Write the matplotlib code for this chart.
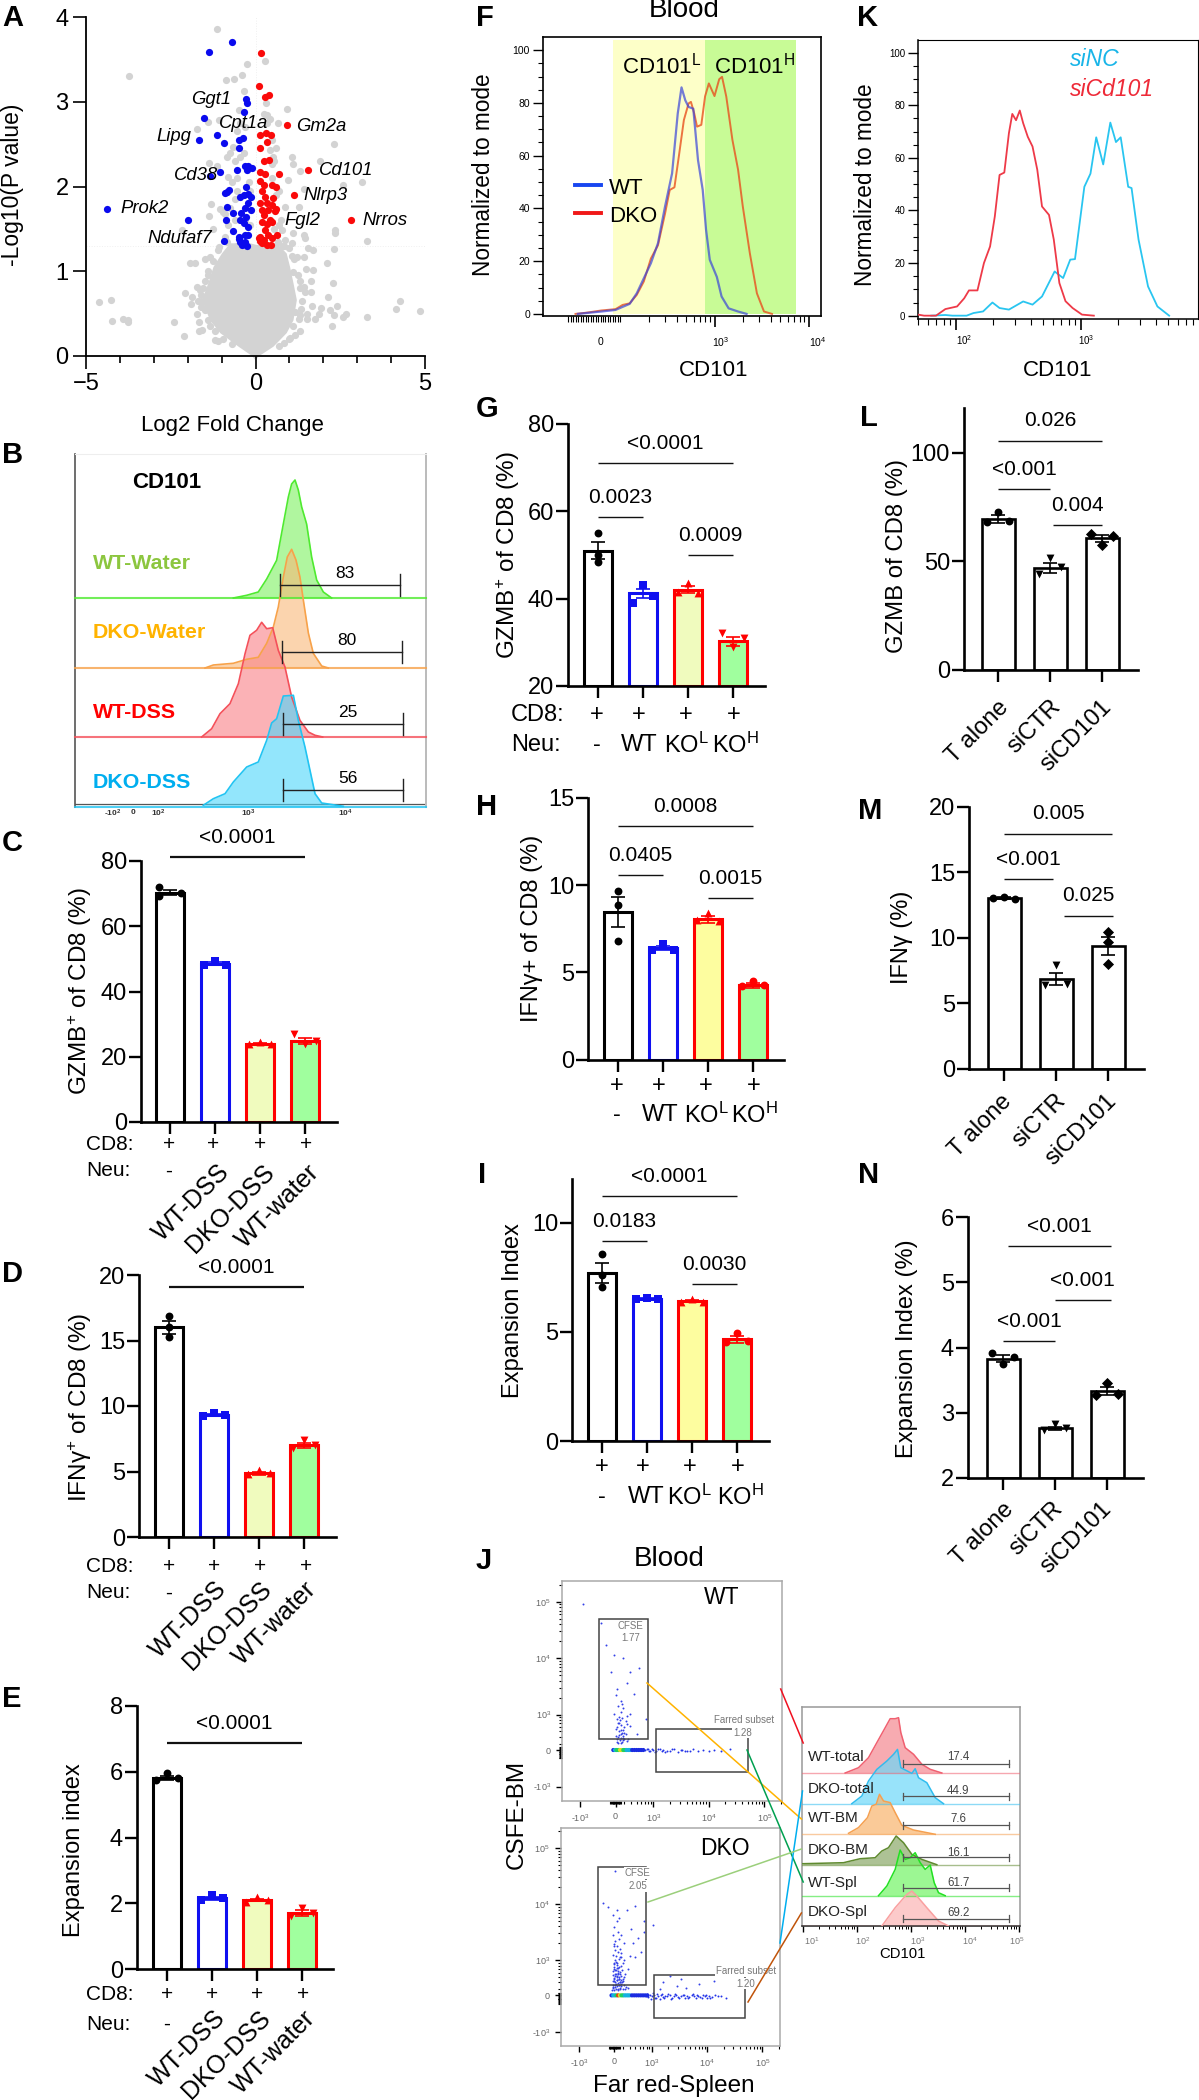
"""Multi-panel CD101 figure: volcano, flow histograms, bar charts, dot plots."""

import matplotlib

matplotlib.use("Agg")
import matplotlib.pyplot as plt
import numpy as np
from matplotlib.lines import Line2D
from matplotlib.patches import Rectangle

plt.rcParams["font.family"] = ["Liberation Sans", "DejaVu Sans"]
plt.rcParams["mathtext.fontset"] = "custom"
plt.rcParams["mathtext.rm"] = "Liberation Sans"
plt.rcParams["mathtext.it"] = "Liberation Sans:italic"
plt.rcParams["mathtext.bf"] = "Liberation Sans:bold"
plt.rcParams["mathtext.default"] = "regular"

W, H = 1199, 2100

# ---- A: volcano
BLUE_X = [-0.70, -1.36, -0.29, -0.26, -0.35, -1.53, -1.14, -1.68, -0.92, -0.50, -0.37, -0.50, -0.55, -0.30, -0.21,
          -0.11, -0.26, -1.04, -1.34, -0.29, -0.85, -0.77, -0.89, -0.45, -0.35, -0.21, -0.14, -0.21, -0.83, -0.30,
          -0.14, -0.65, -0.43, -0.28, -0.45, -0.87, -0.35, -2.00, -4.37, -0.21, -0.67, -0.50, -0.30, -0.21, -0.94,
          -0.45, -0.30, -0.24, -0.40, -0.50]
BLUE_Y = [3.70, 3.59, 3.03, 2.99, 2.88, 2.81, 2.61, 2.55, 2.51, 2.55, 2.57, 2.45, 2.20, 2.24, 2.24,
          2.22, 2.19, 2.17, 2.12, 2.00, 1.93, 1.96, 1.92, 1.88, 1.90, 1.91, 1.88, 1.80, 1.76, 1.75,
          1.72, 1.69, 1.69, 1.64, 1.61, 1.61, 1.57, 1.60, 1.74, 1.52, 1.47, 1.41, 1.43, 1.43, 1.36,
          1.35, 1.35, 1.30, 1.31, 1.38]
RED_X = [0.17, 0.10, 0.41, 0.29, 0.92, 0.14, 0.30, 0.45, 0.33, 0.14, 0.24, 0.41, 1.54, 0.69, 0.12, 0.29,
         0.14, 0.24, 0.48, 0.61, 0.19, 0.29, 1.14, 0.53, 0.14, 0.33, 0.48, 0.19, 0.38, 0.61, 0.24, 0.58,
         0.43, 2.82, 0.19, 0.33, 0.48, 0.29, 0.14, 0.38, 0.63, 0.12, 0.24, 0.48, 0.33, 0.45, 0.19, 0.09]
RED_Y = [3.57, 3.19, 3.08, 3.06, 2.72, 2.61, 2.63, 2.61, 2.53, 2.46, 2.30, 2.31, 2.20, 2.15, 2.17, 2.15,
         2.07, 2.02, 2.02, 2.00, 1.95, 1.88, 1.90, 1.86, 1.80, 1.80, 1.78, 1.72, 1.72, 1.74, 1.66, 1.71,
         1.60, 1.60, 1.58, 1.56, 1.58, 1.49, 1.41, 1.43, 1.43, 1.36, 1.37, 1.39, 1.31, 1.31, 1.33, 1.39]
GREY_X = [-1.14, 0.29, -0.24, -0.40, -3.72, -0.63, -0.87, -0.35, 0.92, 0.30, 0.33, -0.50, -1.09, -1.39, -1.73, 0.65,
          0.43, 2.32, 1.07, 1.10, 1.89, 1.32, 3.14, 2.58, 0.97, 1.44, -1.37, -1.14, -0.75, -0.65, -0.85, 0.43,
          0.53, 0.48, -0.80, -1.32, -1.36, -1.04, -0.89, 1.27, 0.88, 0.78, 1.12, 1.44, 1.47, 2.35, 2.35, 3.28,
          2.32, 1.56, 1.71, -2.17, -1.24, -1.09, 1.07, 0.88, -1.93, -1.78, -1.34, -1.48, 2.10, 1.44, 1.07, 1.22,
          1.49, 1.69, 1.12, -1.41, 1.63, 2.28, 1.32, 1.42, -1.73, -1.65, -2.09, -1.88, 1.63, 2.15, -4.63, -4.25,
          4.27, 4.15, 4.86, -1.91, -1.58, 1.66, 1.94, 2.40, 2.20, 2.66, 2.57, 2.32, 3.28, 1.76, 1.88, 1.51,
          1.51, 1.17, 1.27, -1.73, -1.48, -1.39, -1.68, -2.39, -4.22, -3.92, -3.75, -3.75, 2.25, -1.58, -1.66, -2.12,
          -1.19, -1.12, 1.32, 1.17, 1.02, 0.83]
GREY_Y = [3.86, 3.48, 3.44, 3.32, 3.30, 3.27, 3.26, 3.13, 2.92, 2.98, 2.84, 2.90, 2.78, 2.76, 2.68, 2.75,
          2.80, 2.50, 2.35, 2.27, 2.30, 2.18, 2.05, 2.02, 2.08, 1.97, 2.28, 2.24, 2.39, 2.47, 2.35, 2.43,
          2.35, 2.27, 2.11, 1.79, 1.65, 1.73, 1.68, 1.76, 1.76, 1.49, 1.45, 1.43, 1.39, 1.49, 1.45, 1.36,
          1.26, 1.27, 1.25, 1.49, 1.50, 1.29, 1.33, 1.37, 1.10, 1.10, 1.17, 1.15, 1.10, 1.17, 1.18, 1.17,
          1.03, 1.01, 0.99, 0.95, 0.88, 0.86, 0.88, 0.82, 0.82, 0.78, 0.74, 0.70, 0.75, 0.70, 0.64, 0.66,
          0.65, 0.56, 0.53, 0.61, 0.64, 0.59, 0.57, 0.59, 0.54, 0.50, 0.46, 0.48, 0.46, 0.44, 0.50, 0.50,
          0.44, 0.52, 0.44, 0.50, 0.54, 0.42, 0.40, 0.40, 0.41, 0.44, 0.40, 0.42, 0.35, 0.31, 0.29, 0.24,
          0.19, 0.18, 0.29, 0.25, 0.21, 0.15]
# points in the columns above p=0.05 and along the rim of the main cloud
GREY_MID_X = [-0.9, -0.8, -0.95, -0.75, -0.6, -0.7, -0.55, -0.6, -0.45, -0.35, -0.3, -0.45, -0.55, -0.6, -0.55, -0.3, -0.15,
              -0.15, -0.55, -0.2, 0.55, 0.68, 0.6, 0.7, 0.5, 0.55, 0.6, 0.5, 0.35, 0.25, 0.65, 0.8, 0.75,
              -1.1, -1.25, -1.4, -1.5, -1.55, -1.7, -1.45, -1.35, -1.2, -0.95, -0.7, 1.0, 1.15, 1.25, 1.3, 1.38, 1.3,
              1.1, 1.0, 0.7, 0.85, -0.85, -1.6, -1.62, 1.45, 1.35]
GREY_MID_Y = [1.4, 1.55, 1.7, 1.75, 1.85, 2.05, 2.1, 2.3, 2.35, 2.4, 2.7, 2.75, 2.65, 1.6, 1.3, 1.6, 1.55,
              1.95, 1.95, 2.05, 1.5, 1.55, 1.9, 1.95, 2.1, 2.3, 2.45, 2.55, 2.75, 2.85, 1.35, 1.3, 1.6,
              1.25, 1.12, 1.0, 0.88, 0.8, 0.65, 0.55, 0.35, 0.3, 0.2, 0.14, 1.28, 1.15, 0.95, 0.8, 0.65, 0.48,
              0.35, 0.2, 0.12, 1.3, 1.35, 0.72, 0.58, 0.75, 0.55]
CLOUD_X = [0.00, -0.10, -0.50, -1.04, -1.34, -1.58, -1.39, -1.24, -0.99, -0.75, -0.16, 0.04, 0.63, 0.92, 1.02, 1.12,
           1.22, 1.12, 0.92, 0.53, 0.11, 0.00]
CLOUD_Y = [-0.05, 0.00, 0.11, 0.27, 0.42, 0.66, 0.86, 1.05, 1.21, 1.33, 1.33, 1.31, 1.33, 1.21, 1.05, 0.86,
           0.66, 0.42, 0.27, 0.11, 0.00, -0.05]
GENES = ["Ggt1", "Cpt1a", "Gm2a", "Lipg", "Cd38", "Cd101", "Nlrp3", "Prok2", "Fgl2", "Nrros", "Ndufaf7"]
GENE_X = [-1.32, -0.35, 1.93, -2.40, -1.75, 2.66, 2.07, -3.28, 1.39, 3.82, -2.22]
GENE_Y = [3.03, 2.74, 2.71, 2.59, 2.13, 2.19, 1.89, 1.74, 1.60, 1.60, 1.39]

# ---- B: stacked histograms (log10 CD101, height)
B_NAMES = ["WT-Water", "DKO-Water", "WT-DSS", "DKO-DSS"]
B_PCT = ["83", "80", "25", "56"]
B_GREEN_X = [2.845, 2.983, 3.103, 3.19, 3.293, 3.362, 3.414, 3.448, 3.483, 3.517, 3.552, 3.603, 3.655, 3.707, 3.776, 3.862]
B_GREEN_Y = [0, 2.7, 6, 19, 37.7, 74, 101, 114, 118, 108, 91, 74, 41, 18, 6, 0]
B_ORANGE_X = [2.552, 2.638, 2.845, 2.983, 3.103, 3.19, 3.259, 3.31, 3.362, 3.403, 3.448, 3.493, 3.534, 3.569, 3.621, 3.672, 3.759, 3.828]
B_ORANGE_Y = [0, 3, 4.7, 8.7, 10.7, 24.7, 41, 61, 91, 111, 118.7, 108, 91, 68, 35, 14.7, 2, 0]
B_RED_X = [2.517, 2.621, 2.707, 2.81, 2.897, 2.966, 3.017, 3.086, 3.138, 3.19, 3.252, 3.31, 3.379, 3.448, 3.534, 3.621, 3.69, 3.769]
B_RED_Y = [0, 8.3, 23.3, 33.3, 53.3, 83.3, 101.7, 106.7, 114.7, 108.3, 109.3, 86.7, 70, 40, 16.7, 5, 1.7, 0]
B_CYAN_X = [2.534, 2.638, 2.759, 2.845, 2.983, 3.103, 3.19, 3.241, 3.293, 3.362, 3.466, 3.517, 3.586, 3.638, 3.69, 3.759, 3.983]
B_CYAN_Y = [1.7, 8.3, 13.3, 25, 40, 45, 66.7, 84, 88.3, 111, 111.7, 86.7, 60, 36.7, 13.3, 4, 0.7]

# ---- F / K histograms
F_WT_X = [1.55, 1.8, 1.95, 2.1, 2.175, 2.25, 2.325, 2.4, 2.475, 2.55, 2.61, 2.65, 2.69, 2.725, 2.775, 2.825, 2.875, 2.91, 2.95, 3.025, 3.075, 3.15, 3.25, 3.34]
F_WT_Y = [0, 0.9, 1.5, 3.8, 7.8, 13.5, 19.2, 26.8, 40.7, 53.3, 76, 85.9, 81, 78.5, 77.8, 58.3, 47, 32, 20.5, 14, 6.6, 2.1, 0.9, 0]
F_DKO_X = [1.525, 1.65, 1.8, 1.95, 2.025, 2.1, 2.175, 2.25, 2.325, 2.4, 2.475, 2.525, 2.575, 2.625, 2.675, 2.725, 2.75, 2.785, 2.815, 2.86, 2.9, 2.94, 3, 3.05, 3.08, 3.125, 3.19, 3.25, 3.3, 3.375, 3.45, 3.525, 3.61]
F_DKO_Y = [0, 0.5, 1.3, 1.8, 3.4, 4, 7.2, 12.3, 21, 26, 38, 47, 48, 60.6, 73.5, 79.8, 80.4, 76, 71, 71.7, 82.5, 87.4, 82.6, 89, 89.9, 82.4, 66, 54.7, 40.8, 23, 7.8, 0.9, 0]
K_RED_X = [1.698, 1.747, 1.842, 1.917, 2.011, 2.068, 2.106, 2.174, 2.226, 2.275, 2.313, 2.351, 2.389, 2.426, 2.453, 2.483, 2.513, 2.54, 2.577, 2.615, 2.653, 2.691, 2.747, 2.785, 2.83, 2.879, 2.936, 3.011, 3.106]
K_RED_Y = [0.4, 0, 0, 2.5, 3.5, 6.6, 9.6, 9.6, 20, 26.3, 37.7, 53.5, 54.4, 69.4, 76.7, 74.3, 78, 73.2, 68, 64.3, 55.5, 41.5, 38.3, 29, 12.4, 5.5, 2.9, 0.4, 0]
K_CYAN_X = [1.804, 1.917, 1.974, 2.087, 2.143, 2.219, 2.294, 2.351, 2.426, 2.54, 2.615, 2.691, 2.792, 2.86, 2.917, 2.955, 3.03, 3.079, 3.125, 3.181, 3.238, 3.283, 3.321, 3.381, 3.408, 3.464, 3.54, 3.615, 3.709]
K_CYAN_Y = [0, 0.25, 0, 0, 1, 1.6, 5, 2.9, 2.3, 5.4, 4.2, 7.3, 16.8, 14.3, 21.3, 21.5, 49, 54, 67.8, 57.5, 73.4, 66, 67.8, 49, 48.5, 28.9, 11.1, 3.5, 0]

# ---- C, D, E bars
C_MEANS = [70.3, 48.5, 24, 24.8]
C_SEMS = [0.8, 0.4, 0.2, 1.0]
C_POINTS = [[72, 69.4, 70.3], [48, 49.2, 48], [23.8, 24.6, 24], [27, 24, 24.8]]
D_MEANS = [16, 9.3, 4.85, 7]
D_SEMS = [0.5, 0.1, 0.1, 0.2]
D_POINTS = [[16.9, 16, 15.3], [9.2, 9.5, 9.3], [4.8, 5.1, 4.85], [6.8, 7.4, 7.05]]
E_MEANS = [5.8, 2.15, 2.1, 1.7]
E_SEMS = [0.06, 0.05, 0.04, 0.08]
E_POINTS = [[5.75, 5.95, 5.8], [2.1, 2.25, 2.15], [2.05, 2.2, 2.1], [1.6, 1.85, 1.7]]
DSS_LABELS = ["WT-DSS", "DKO-DSS", "WT-water"]

# ---- G, H, I bars
G_MEANS = [51, 41.2, 42, 30.2]
G_SEMS = [2, 1.1, 0.8, 1]
G_POINTS = [[55, 50, 48.3], [39, 43.2, 40.6], [41.5, 43.7, 41.4], [32.2, 29, 31]]
H_MEANS = [8.45, 6.4, 8.05, 4.25]
H_SEMS = [0.85, 0.12, 0.2, 0.15]
H_POINTS = [[9.68, 8.86, 6.81], [6.3, 6.6, 6.3], [8, 8.4, 7.95], [4.2, 4.5, 4.3]]
I_MEANS = [7.7, 6.5, 6.4, 4.65]
I_SEMS = [0.45, 0.03, 0.05, 0.15]
I_POINTS = [[8.56, 7.62, 7.07], [6.5, 6.55, 6.5], [6.35, 6.5, 6.35], [4.55, 4.95, 4.6]]

# ---- L, M, N bars
L_MEANS = [69.6, 47.1, 60.6]
L_SEMS = [2, 2.2, 1.6]
L_POINTS = [[68, 73, 68.5], [44.3, 51.6, 47.5], [62.7, 57.8, 61.9]]
M_MEANS = [13.05, 6.85, 9.35]
M_SEMS = [0.06, 0.45, 0.7]
M_POINTS = [[13.05, 13.15, 13.0], [6.4, 7.9, 6.5], [10.45, 9.7, 8.0]]
N_MEANS = [3.83, 2.76, 3.33]
N_SEMS = [0.05, 0.02, 0.06]
N_POINTS = [[3.92, 3.74, 3.86], [2.74, 2.82, 2.76], [3.27, 3.46, 3.28]]
SI_LABELS = ["T alone", "siCTR", "siCD101"]

# ---- J: dot plots
J_WT_X = [2.29, 2.46, 2.14, 2.58, 2.74, 2.23, 2.35, 2.52, 2.32, 2.42, 2.65, 2.45, 2.52, 2.35, 2.58, 2.42, 2.32, 2.46, 2.58,
          2.42, 2.45, 2.35, 2.52, 2.42, 2.71, 2.87, 2.29, 1.73, 2.06, 2.38, 2.5, 2.36, 2.41, 2.33, 2.47, 2.55, 2.39, 2.44,
          2.34, 2.37, 2.4, 2.43, 2.46, 2.36, 2.39, 2.42, 2.45, 2.48, 2.38, 2.41, 2.44, 2.35, 2.5, 2.37, 2.4, 2.43, 2.52, 2.47]
J_WT_Y = [4.05, 4.01, 4.24, 3.75, 3.82, 3.75, 3.46, 3.56, 3.34, 3.24, 3.37, 3.11, 2.98, 2.92, 3.01, 2.82, 2.75, 2.72, 2.79,
          2.66, 2.59, 2.56, 2.53, 2.5, 2.66, 2.92, 3.01, 4.97, 4.63, 2.85, 2.88, 3.15, 3.05, 2.62, 2.68, 2.56, 2.95, 3.18,
          2.52, 2.5, 2.54, 2.51, 2.55, 2.6, 2.63, 2.58, 2.62, 2.57, 2.7, 2.73, 2.68, 2.78, 2.65, 2.85, 2.9, 2.94, 2.84, 2.78]
J_WT_TAIL_X = [2.85, 2.88, 2.9, 2.93, 2.95, 2.98, 3.0, 3.03, 3.05, 3.09, 3.12, 3.15, 3.18, 3.22, 3.25, 3.3, 3.34, 3.38, 3.45, 3.5, 3.52, 3.58, 3.6, 3.66, 3.72, 3.8, 3.9, 4.0, 4.1, 4.22, 4.38]
J_WT_TAIL_Y = [2.37, 2.39, 2.38, 2.35, 2.35, 2.38, 2.37, 2.34, 2.36, 2.38, 2.38, 2.36, 2.37, 2.34, 2.35, 2.36, 2.38, 2.38, 2.34, 2.37, 2.37, 2.35, 2.36, 2.35, 2.38, 2.36, 2.37, 2.35, 2.37, 2.36, 2.38]
J_WT_BLOB_X = [2.28, 2.31, 2.34, 2.37, 2.40, 2.43, 2.46, 2.49, 2.52, 2.55, 2.58, 2.62, 2.66, 2.70, 2.74, 2.78, 2.82]
J_WT_BLOB_LEVEL = [0, 1, 2, 2, 3, 3, 2, 2, 1, 1, 1, 0, 0, 0, 0, 0, 0]
J_KO_X = [2.30, 2.34, 2.38, 2.42, 2.30, 2.35, 2.40, 2.45, 2.32, 2.37, 2.43, 2.31, 2.36, 2.41, 2.47, 2.33, 2.38, 2.44, 2.30, 2.35,
          2.42, 2.49, 2.32, 2.39, 2.46, 2.31, 2.37, 2.44, 2.52, 2.33, 2.40, 2.48, 2.56, 2.35, 2.30, 2.42, 2.50, 2.38, 2.33, 2.45,
          2.60, 2.36, 2.31, 2.43, 2.70, 2.34, 2.40, 2.66, 2.30, 2.80, 2.38, 2.44, 2.75, 2.31, 2.85, 2.36, 2.11, 2.2, 2.55, 2.7,
          2.3, 2.4, 3.02, 2.33, 2.5, 2.62, 2.36, 2.45, 2.32, 2.86,
          2.28, 2.29, 2.31, 2.33, 2.35, 2.37, 2.39, 2.41, 2.43, 2.45, 2.47, 2.49, 2.51, 2.54, 2.57, 2.29, 2.32, 2.34, 2.36, 2.38,
          2.4, 2.42, 2.44, 2.46, 2.48, 2.3, 2.33, 2.35, 2.37, 2.39, 2.41, 2.43, 2.31, 2.34, 2.36, 2.38, 2.4, 2.32, 2.35, 2.37]
J_KO_Y = [2.50, 2.52, 2.48, 2.51, 2.56, 2.58, 2.55, 2.53, 2.62, 2.64, 2.6, 2.68, 2.7, 2.66, 2.62, 2.75, 2.77, 2.72, 2.8, 2.82,
          2.78, 2.7, 2.88, 2.86, 2.83, 2.93, 2.95, 2.9, 2.75, 3.0, 3.02, 2.95, 2.85, 3.08, 3.1, 3.06, 3.0, 3.15, 3.18, 3.12,
          3.08, 3.25, 3.28, 3.2, 3.05, 3.35, 3.38, 3.3, 3.45, 3.15, 3.5, 3.45, 3.4, 3.6, 3.5, 3.7, 4.02, 3.95, 3.9, 3.96,
          3.8, 3.75, 3.62, 4.59, 3.3, 3.55, 3.9, 3.05, 3.25, 3.7,
          2.46, 2.52, 2.47, 2.55, 2.49, 2.54, 2.47, 2.56, 2.48, 2.57, 2.49, 2.56, 2.48, 2.52, 2.5, 2.62, 2.66, 2.6, 2.65, 2.59,
          2.66, 2.6, 2.64, 2.6, 2.66, 2.74, 2.72, 2.76, 2.71, 2.75, 2.7, 2.76, 2.84, 2.82, 2.86, 2.8, 2.87, 2.94, 2.97, 2.92]
J_KO_TAIL_X = [2.9, 2.93, 2.96, 3.0, 3.04, 3.08, 3.12, 3.16, 3.2, 3.24, 3.28, 3.32, 3.36, 3.4, 3.44, 3.48, 3.52, 3.56, 3.6, 3.64,
               3.68, 3.72, 3.76, 3.8, 3.84, 3.88, 3.92, 3.96, 4.0, 4.04, 4.08, 4.14, 4.2, 4.25, 4.35,
               2.92, 2.98, 3.02, 3.06, 3.1, 3.14, 3.18, 3.22, 3.3, 3.34, 3.42, 3.5, 3.58, 3.66, 3.74, 3.82, 3.9, 3.98, 4.06]
J_KO_TAIL_Y = [2.36, 2.34, 2.38, 2.35, 2.37, 2.33, 2.36, 2.38, 2.34, 2.36, 2.35, 2.37, 2.33, 2.36, 2.38, 2.34, 2.35, 2.37, 2.33, 2.36,
               2.34, 2.37, 2.35, 2.33, 2.36, 2.34, 2.37, 2.35, 2.33, 2.36, 2.34, 2.37, 2.35, 2.36, 2.33,
               2.4, 2.31, 2.41, 2.32, 2.39, 2.31, 2.4, 2.32, 2.39, 2.31, 2.39, 2.32, 2.38, 2.32, 2.39, 2.38, 2.32, 2.38, 2.32]
J_KO_HIGH_X = [3.2, 3.33, 3.52, 3.62, 3.85, 4.12, 3.14, 3.46]
J_KO_HIGH_Y = [2.6, 2.72, 2.66, 2.5, 2.58, 2.62, 2.48, 2.54]
J_KO_BLOB_X = [2.27, 2.30, 2.33, 2.36, 2.39, 2.42, 2.45, 2.48, 2.51, 2.54, 2.57, 2.60, 2.64, 2.68, 2.72, 2.76, 2.80, 2.84, 2.88, 2.92]
J_KO_BLOB_LEVEL = [0, 1, 1, 2, 4, 3, 2, 2, 1, 1, 1, 1, 0, 0, 0, 0, 0, 0, 0, 0]
BLOB_COLOURS = ["#1A2BE0", "#16B0E0", "#1FD060", "#D8E020", "#F03010"]
J_TICK_LABELS = ["-10$^{3}$", "0", "10$^{3}$", "10$^{4}$", "10$^{5}$"]

# ---- J: small stacked histograms
J_NAMES = ["WT-total", "DKO-total", "WT-BM", "DKO-BM", "WT-Spl", "DKO-Spl"]
J_PCT = ["17.4", "44.9", "7.6", "16.1", "61.7", "69.2"]
J1_X = [1.784, 2.031, 2.216, 2.37, 2.525, 2.617, 2.71, 2.772, 2.815, 2.895, 3.05, 3.204, 3.358, 3.574]
J1_Y = [0, 5.3, 15.3, 30.3, 45.3, 54.3, 54.3, 55.3, 40.3, 25.3, 18.7, 8.7, 3.7, 0]
J2_X = [1.907, 2.093, 2.216, 2.37, 2.556, 2.679, 2.753, 2.815, 3.019, 3.08, 3.142, 3.296, 3.451, 3.605]
J2_Y = [0, 7.7, 22.7, 34.3, 42.7, 49.3, 54.3, 36, 30.3, 35, 26, 21, 6, 0]
J3_X = [1.846, 2.031, 2.198, 2.278, 2.358, 2.42, 2.494, 2.617, 2.71, 2.833, 3.049, 3.451]
J3_Y = [1, 6.7, 16.7, 28.3, 30, 40, 33.3, 31.7, 21.7, 9, 4.3, 0]
J4_X = [1.0, 1.753, 2.062, 2.34, 2.463, 2.586, 2.728, 2.864, 3.019, 3.204, 3.481]
J4_Y = [1, 2, 6, 7, 13.7, 17, 28.7, 22, 10.3, 5.3, 0]
J5_X = [2.401, 2.556, 2.71, 2.802, 2.895, 2.988, 3.08, 3.173, 3.265, 3.358, 3.432, 3.512, 3.636]
J5_Y = [0, 9.7, 26.3, 45.7, 36.3, 38, 43, 33, 26.3, 30.7, 13, 3, 0]
J6_X = [2.463, 2.71, 2.926, 3.019, 3.111, 3.296, 3.512, 3.698]
J6_Y = [0, 18.3, 31.7, 35, 30, 18.3, 5, 0]

fig = plt.figure(figsize=(W / 100, H / 100), dpi=100)


def ax_px(left, top, right, bottom):
    ax = fig.add_axes([left / W, 1 - bottom / H, (right - left) / W, (bottom - top) / H])
    ax.patch.set_alpha(0)
    return ax


def txt(x, y, s, size=15, **kw):
    kw.setdefault("ha", "center")
    kw.setdefault("va", "center")
    fig.text(x / W, 1 - y / H, s, fontsize=size, **kw)


def link(x0, y0, x1, y1, color):
    fig.add_artist(Line2D([x0 / W, x1 / W], [1 - y0 / H, 1 - y1 / H], transform=fig.transFigure, color=color, lw=1.1))


def letter(x, y, s):
    txt(x, y, s, size=21, fontweight="bold", ha="left")


def bar_panel(box, c0, dx, ylim, yticks, means, sems, points, offsets, edges, fills, markers, brackets,
              bw=28, lw=2.2, line_w=1.0):
    left, right, top, bottom = box
    ax = ax_px(left, top, right, bottom)
    ax.set_xlim((left - c0) / dx, (right - c0) / dx)
    ax.set_ylim(*ylim)
    for i, m in enumerate(means):
        ax.bar(i, m - ylim[0], bottom=ylim[0], width=bw / dx, facecolor=fills[i], edgecolor=edges[i], linewidth=lw, zorder=2)
        ax.errorbar(i, m, yerr=sems[i], color=edges[i], capsize=5, elinewidth=1.2, capthick=1.2, zorder=3)
        xs = [i + o for o in offsets[i]]
        ax.scatter(xs, points[i], marker=markers[i], s=32, color=edges[i], linewidths=0, zorder=4, clip_on=False)
    for a, b, y, label in brackets:
        ax.plot([a, b], [y, y], color="#111111", lw=line_w, clip_on=False, solid_capstyle="butt")
        ax.annotate(label, ((a + b) / 2, y), xytext=(0, 14.2), textcoords="offset points",
                    ha="center", va="center", fontsize=15, annotation_clip=False)
    for side in ("top", "right"):
        ax.spines[side].set_visible(False)
    for side in ("left", "bottom"):
        ax.spines[side].set_linewidth(1.9)
    ax.set_xticks(range(len(means)))
    ax.set_xticklabels([])
    ax.set_yticks(yticks)
    ax.tick_params(axis="y", length=8.5, width=1.7, labelsize=17, pad=1.5)
    ax.tick_params(axis="x", length=8.5, width=1.7)
    return ax


def rotated(xs, y, labels, size=18):
    for x, s in zip(xs, labels):
        txt(x, y, s, size=size, rotation=45, ha="right", va="top", rotation_mode="anchor")


def flow_ticks(ax, axis, major, dense):
    minor = list(dense)
    for dec in major:
        minor += list(dec + np.log10(np.arange(2, 10)))
    lim = ax.get_xlim() if axis == "x" else ax.get_ylim()
    minor = [m for m in minor if lim[0] < m < lim[1]]
    if axis == "x":
        ax.set_xticks(major)
        ax.set_xticks(minor, minor=True)
    else:
        ax.set_yticks(major)
        ax.set_yticks(minor, minor=True)


# ======== A
ax = ax_px(86, 17, 425, 356)
ax.set_xlim(-5, 5)
ax.set_ylim(0, 4)
ax.fill(CLOUD_X, CLOUD_Y, color="#D3D3D3", lw=0, clip_on=False, zorder=1)
ax.axhline(1.3, color="#F0F0F0", lw=0.7, ls=":", zorder=0)
ax.axvline(0, color="#F0F0F0", lw=0.7, ls=":", zorder=0)
ax.scatter(GREY_X + GREY_MID_X, GREY_Y + GREY_MID_Y, s=27, color="#D3D3D3", linewidths=0, zorder=2)
ax.scatter(BLUE_X, BLUE_Y, s=27, color="#0A0AEE", linewidths=0, zorder=3)
ax.scatter(RED_X, RED_Y, s=27, color="#FA0A0A", linewidths=0, zorder=3)
for gene, gx, gy in zip(GENES, GENE_X, GENE_Y):
    ax.text(gx, gy, gene, fontsize=13.3, style="italic", ha="center", va="center", zorder=5)
for side in ("top", "right"):
    ax.spines[side].set_visible(False)
ax.spines["left"].set_linewidth(1.3)
ax.spines["bottom"].set_linewidth(1.3)
ax.set_xticks([-5, 0, 5])
ax.set_xticks([-4, -3, -2, -1, 1, 2, 3, 4], minor=True)
ax.set_yticks([0, 1, 2, 3, 4])
ax.tick_params(axis="both", which="major", length=9.5, width=1.2, labelsize=17, pad=3)
ax.tick_params(axis="x", which="minor", length=5, width=1.2)
txt(13, 185, "-Log10(P value)", size=16.5, rotation=90)
txt(232, 425, "Log2 Fold Change", size=16)

# ======== B
ax = ax_px(75, 454, 426, 807)
ax.set_xlim(1.207, 4.838)
ax.set_ylim(0, 353)
B_BASE = [209, 139, 70, 0]
B_EDGE = ["#4FEA30", "#F7A24A", "#F4505A", "#22C4F2"]
B_FILL = ["#7CF060", "#F9B878", "#F97F86", "#4CD6FB"]
B_CURVES = [(B_GREEN_X, B_GREEN_Y), (B_ORANGE_X, B_ORANGE_Y), (B_RED_X, B_RED_Y), (B_CYAN_X, B_CYAN_Y)]
B_GATE = [(3.328, 4.569, 12.7), (3.348, 4.586, 16), (3.362, 4.603, 12.7), (3.362, 4.603, 16.7)]
for base, edge, fill, (cx, cy), gate, pct in zip(B_BASE, B_EDGE, B_FILL, B_CURVES, B_GATE, B_PCT):
    ax.fill_between(cx, base, np.array(cy) + base, color=fill, alpha=0.6, lw=0, zorder=2)
    ax.plot(cx, np.array(cy) + base, color=edge, lw=1.2, zorder=3)
    ax.plot([1.207, 4.838], [base, base], color=edge, lw=1.5, alpha=0.8, zorder=3, clip_on=False)
    y = base + gate[2]
    ax.plot([gate[0], gate[1]], [y, y], color="#222222", lw=1, zorder=5)
    for gx in gate[:2]:
        ax.plot([gx, gx], [y - 11, y + 11], color="#222222", lw=1, zorder=5)
    ax.text((gate[0] + gate[1]) / 2 + 0.05, y + 12, pct, fontsize=12.5, ha="center", va="center", zorder=6)
ax.axhline(3.5, color="#555555", lw=0.9, zorder=1)
ax.set_xticks([])
ax.set_yticks([])
ax.spines["left"].set_color("#555555")
ax.spines["left"].set_linewidth(1.2)
ax.spines["right"].set_color("#BBBBBB")
ax.spines["right"].set_linewidth(1.4)
ax.spines["top"].set_color("#EEEEEE")
ax.spines["bottom"].set_visible(False)
for name, y, c in zip(B_NAMES, [563, 632, 712, 783], ["#8CC63F", "#FFB300", "#FF0000", "#00AEEF"]):
    txt(93, y, name, size=15.4, color=c, fontweight="bold", ha="left")
txt(167, 483, "CD101", size=16, fontweight="bold")
for x, s in zip([113, 133, 158, 248, 345], ["-10$^{2}$", "0", "10$^{2}$", "10$^{3}$", "10$^{4}$"]):
    txt(x, 813, s, size=6, fontweight="bold", color="#333333")

# ======== C, D, E
EDGES_4 = ["#000000", "#1010F0", "#FF0000", "#FF0000"]
FILLS_4 = ["#FFFFFF", "#FFFFFF", "#F0FBBE", "#A0FF9E"]
FILLS_Y = ["#FFFFFF", "#FFFFFF", "#FDFD9F", "#A0FF9E"]
MARK_4 = ["o", "s", "^", "v"]
MARK_C = ["o", "s", "^", "o"]
OFF_SIDE = [-0.24, 0, 0.24]
OFF_C = [[-0.24, -0.24, 0.24], OFF_SIDE, OFF_SIDE, OFF_SIDE]
OFF_D = [[0, 0, 0], OFF_SIDE, OFF_SIDE, OFF_SIDE]

bar_panel((141, 337, 861, 1122), 170, 45, (0, 80), [0, 20, 40, 60, 80], C_MEANS, C_SEMS, C_POINTS, OFF_C,
          EDGES_4, FILLS_4, MARK_4, [(0, 3, 81.3, "<0.0001")], line_w=1.6)
bar_panel((139, 336, 1275, 1537), 169, 45, (0, 20), [0, 5, 10, 15, 20], D_MEANS, D_SEMS, D_POINTS, OFF_D,
          EDGES_4, FILLS_4, MARK_4, [(0, 3, 19.1, "<0.0001")], line_w=1.6)
bar_panel((137, 333, 1706, 1969), 167, 45, (0, 8), [0, 2, 4, 6, 8], E_MEANS, E_SEMS, E_POINTS, [OFF_SIDE] * 4,
          EDGES_4, FILLS_4, MARK_4, [(0, 3, 6.88, "<0.0001")], line_w=1.6)
txt(80, 991, "GZMB$^{+}$ of CD8 (%)", size=17.5, rotation=90)
txt(80, 1407, "IFNγ$^{+}$ of CD8 (%)", size=17.5, rotation=90)
txt(74, 1850, "Expansion index", size=17, rotation=90)
for ys, xs in [((1145, 1171), (169, 213, 260, 306)), ((1567, 1593), (169, 214, 260, 306)), ((1994, 2024), (167, 212, 257, 303))]:
    txt(86, ys[0], "CD8:", ha="left")
    txt(86, ys[1], "Neu:", ha="left")
    for x in xs:
        txt(x, ys[0], "+")
    txt(xs[0], ys[1], "-")
rotated([217, 262, 307], 1160, DSS_LABELS)
rotated([214, 259, 304], 1577, DSS_LABELS)
rotated([213, 258, 303], 2006, DSS_LABELS)

# ======== G, H, I
OFF_G = [[0, 0, 0], [-0.22, 0, 0.22], [-0.22, 0, 0.22], [-0.24, 0, 0.24]]
bar_panel((568, 765, 424, 686), 598, 45, (20, 80), [20, 40, 60, 80], G_MEANS, G_SEMS, G_POINTS, OFF_G,
          EDGES_4, FILLS_4, MARK_4, [(0, 3, 71.1, "<0.0001"), (0, 1, 58.7, "0.0023"), (2, 3, 50, "0.0009")])
bar_panel((588, 784, 798, 1059.5), 618, 45, (0, 15), [0, 5, 10, 15], H_MEANS, H_SEMS, H_POINTS, OFF_D,
          EDGES_4, FILLS_Y, MARK_C, [(0, 3, 13.37, "0.0008"), (0, 1, 10.56, "0.0405"), (2, 3, 9.25, "0.0015")])
bar_panel((572, 769, 1179, 1441), 602, 45, (0, 12), [0, 5, 10], I_MEANS, I_SEMS, I_POINTS, OFF_D,
          EDGES_4, FILLS_Y, MARK_C, [(0, 3, 11.2, "<0.0001"), (0, 1, 9.16, "0.0183"), (2, 3, 7.17, "0.0030")])
txt(508, 555, "GZMB$^{+}$ of CD8 (%)", size=17.5, rotation=90)
txt(532, 928, "IFNγ+ of CD8 (%)", size=17, rotation=90)
txt(513, 1311, "Expansion Index", size=17, rotation=90)
KO_LABELS = ["-", "WT", "KO$^{L}$", "KO$^{H}$"]
for y_plus, y_neu, xs_plus, xs_neu in [(715, 745, (597, 639, 686, 734), (597, 639, 687, 735)),
                                        (1086, 1115, (617, 659, 706, 754), (617, 660, 707, 754)),
                                        (1467, 1497, (602, 643, 690, 738), (602, 646, 690, 740))]:
    for x in xs_plus:
        txt(x, y_plus, "+", size=17)
    for x, s in zip(xs_neu, KO_LABELS):
        txt(x, y_neu, s, size=17)
txt(511, 715, "CD8:", size=17, ha="left")
txt(511, 745, "Neu:", size=17, ha="left")

# ======== L, M, N
EDGES_3 = ["#000000"] * 3
FILLS_3 = ["#FFFFFF"] * 3
MARK_3 = ["o", "v", "D"]
OFF_3 = [[-0.22, 0, 0.22]] * 3
bar_panel((964, 1138, 408, 670), 998, 52, (0, 120.7), [0, 50, 100], L_MEANS, L_SEMS, L_POINTS, OFF_3,
          EDGES_3, FILLS_3, MARK_3, [(0, 2, 105.7, "0.026"), (0, 1, 83.3, "<0.001"), (1.05, 2, 66.8, "0.004")], bw=33, lw=1.9)
bar_panel((969, 1144, 807, 1068.6), 1004, 52, (0, 20), [0, 5, 10, 15, 20], M_MEANS, M_SEMS, M_POINTS,
          [[-0.22, 0, 0.22], [-0.22, 0, 0.22], [0, 0, 0]], EDGES_3, FILLS_3, MARK_3,
          [(0, 2.08, 17.96, "0.005"), (0, 0.95, 14.5, "<0.001"), (1.15, 2.1, 11.7, "0.025")], bw=33, lw=1.9)
bar_panel((968, 1143, 1217, 1478), 1003, 52, (2, 6), [2, 3, 4, 5, 6], N_MEANS, N_SEMS, N_POINTS, OFF_3,
          EDGES_3, FILLS_3, MARK_3, [(0.1, 2.08, 5.55, "<0.001"), (1, 2.07, 4.73, "<0.001"), (0, 1, 4.1, "<0.001")], bw=33, lw=1.9)
txt(897, 556, "GZMB of CD8 (%)", size=17.2, rotation=90)
txt(902, 937, "IFNγ (%)", size=17, rotation=90)
txt(907, 1349, "Expansion Index (%)", size=17, rotation=90)
rotated([997, 1050, 1100], 696, SI_LABELS, size=17)
rotated([1000, 1055, 1105], 1090, SI_LABELS, size=17)
rotated([1002, 1052, 1100], 1498, SI_LABELS, size=17)

# ======== F
ax = ax_px(542.5, 37, 821, 316)
ax.set_xlim(1.175, 4.13)
ax.set_ylim(-0.8, 105)
ax.fill_between([1.923, 2.899], 0, 103.8, color="#FDFFC8", lw=0, zorder=0)
ax.fill_between([2.899, 3.865], 0, 103.8, color="#C8FB96", lw=0, zorder=0)
ax.plot(F_DKO_X, F_DKO_Y, color="#E8501E", alpha=0.8, lw=1.4, zorder=2)
ax.plot(F_WT_X, F_WT_Y, color="#3A45D8", alpha=0.7, lw=1.6, zorder=3)
ax.set_yticks([0, 20, 40, 60, 80, 100])
ax.set_yticks(np.arange(0, 101, 5), minor=True)
flow_ticks(ax, "x", [3, 4], list(2 + np.log10(np.arange(2, 10))) + list(np.linspace(1.45, 2.0, 22)))
ax.set_xticklabels([])
ax.set_yticklabels(["0", "20", "40", "60", "80", "100"])
ax.tick_params(axis="y", which="major", length=7, width=1, labelsize=7.5, pad=2)
ax.tick_params(axis="y", which="minor", length=3.5, width=0.8)
ax.tick_params(axis="x", which="major", length=8, width=1.2)
ax.tick_params(axis="x", which="minor", length=4, width=0.8)
for s in ax.spines.values():
    s.set_linewidth(1.2)
txt(601, 342, "0", size=7.5)
txt(721, 342, "10$^{3}$", size=7.5)
txt(818, 342, "10$^{4}$", size=7.5)
txt(662, 66, "CD101$^{L}$", size=16)
txt(755, 66, "CD101$^{H}$", size=16)
fig.add_artist(Line2D([574.5 / W, 600.5 / W], [1 - 185 / H] * 2, transform=fig.transFigure, color="#1846F0", lw=2.8))
fig.add_artist(Line2D([574.5 / W, 600.5 / W], [1 - 213 / H] * 2, transform=fig.transFigure, color="#F01818", lw=2.8))
txt(609, 188, "WT", size=16, ha="left")
txt(609, 216, "DKO", size=16, ha="left")
txt(684, 10, "Blood", size=20)
txt(484, 175, "Normalized to mode", size=16.3, rotation=90)
txt(714, 370, "CD101", size=16)

# ======== K
ax = ax_px(918, 40, 1197.5, 319)
ax.set_xlim(1.698, 3.936)
ax.set_ylim(-1.27, 104.8)
ax.plot(K_RED_X, K_RED_Y, color="#EE3A48", lw=1.3, zorder=3)
ax.plot(K_CYAN_X, K_CYAN_Y, color="#29C5F0", lw=1.3, zorder=2)
ax.set_yticks([0, 20, 40, 60, 80, 100])
ax.set_yticks(np.arange(0, 101, 5), minor=True)
flow_ticks(ax, "x", [2, 3], list(1 + np.log10(np.arange(2, 10))))
ax.set_xticklabels([])
ax.tick_params(axis="y", which="major", length=7, width=1, labelsize=7, pad=2)
ax.tick_params(axis="y", which="minor", length=3.5, width=0.8)
ax.tick_params(axis="x", which="major", length=8, width=1.2)
ax.tick_params(axis="x", which="minor", length=4, width=0.8)
for side, s in ax.spines.items():
    s.set_linewidth(1.1 if side in ("left", "bottom") else 0.8)
txt(964, 340, "10$^{2}$", size=7)
txt(1086, 340, "10$^{3}$", size=7)
txt(1070, 60, "siNC", size=16.5, color="#19B5E8", style="italic", ha="left")
txt(1070, 89, "siCd101", size=16.5, color="#EE2A38", style="italic", ha="left")
txt(865, 185, "Normalized to mode", size=16.3, rotation=90)
txt(1058, 370, "CD101", size=16)

# ======== J dot plots
J_DENSE = list(np.linspace(2.22, 2.42, 14))
for box, xs, ys, tx, ty, bx, bl, gates, notes, name, name_xy in [
    ((562, 782, 1581, 1801), J_WT_X, J_WT_Y, J_WT_TAIL_X, J_WT_TAIL_Y, J_WT_BLOB_X, J_WT_BLOB_LEVEL,
     [(2.03, 2.56, 0.87, 2.13), (3.05, 1.98, 1.66, 0.77)],
     [(2.59, 4.58, "CFSE"), (2.59, 4.35, "1.77"), (4.63, 2.91, "Farred subset"), (4.61, 2.68, "1.28")], "WT", (4.23, 5.08)),
    ((561, 780, 1827.5, 2046), J_KO_X + J_KO_HIGH_X, J_KO_Y + J_KO_HIGH_Y, J_KO_TAIL_X, J_KO_TAIL_Y, J_KO_BLOB_X, J_KO_BLOB_LEVEL,
     [(2.02, 2.55, 0.88, 2.12), (3.04, 1.96, 1.65, 0.78)],
     [(2.74, 4.56, "CFSE"), (2.74, 4.33, "2.05"), (4.70, 2.81, "Farred subset"), (4.69, 2.58, "1.20")], "DKO", (4.32, 4.99)),
]:
    ax = ax_px(box[0], box[2], box[1], box[3])
    ax.set_xlim(1.355, 5.32)
    ax.set_ylim(1.465, 5.37)
    ax.scatter(xs, ys, s=2, color="#3340E8", linewidths=0, zorder=2)
    ax.scatter(tx, ty, s=2, color="#2233E8", linewidths=0, zorder=2)
    ax.scatter(bx, [2.37] * len(bx), s=9, c=[BLOB_COLOURS[v] for v in bl], linewidths=0, zorder=3)
    for gx, gy, gw, gh in gates:
        ax.add_patch(Rectangle((gx, gy), gw, gh, fill=False, edgecolor="#444444", lw=1.1, zorder=4))
    for nx, ny, s in notes:
        ax.text(nx, ny, s, fontsize=7, color="#777777", ha="center", va="center", zorder=5,
                bbox=dict(facecolor="white", edgecolor="none", pad=0.6))
    ax.text(name_xy[0], name_xy[1], name, fontsize=16.5, ha="center", va="center", zorder=6)
    flow_ticks(ax, "x", [3, 4, 5], J_DENSE + list(2 + np.log10(np.arange(2, 10))))
    flow_ticks(ax, "y", [3, 4, 5], J_DENSE + list(2 + np.log10(np.arange(2, 10))))
    ax.set_xticks([1.68, 2.32, 3, 4, 5])
    ax.set_yticks([1.72, 2.37, 3, 4, 5])
    ax.set_xticklabels(J_TICK_LABELS)
    ax.set_yticklabels(J_TICK_LABELS)
    ax.tick_params(axis="both", which="major", length=4, width=1, labelsize=6.5, labelcolor="#666666", pad=4)
    ax.tick_params(axis="both", which="minor", length=2.5, width=0.8)
    for s in ax.spines.values():
        s.set_color("#AAAAAA")
        s.set_linewidth(1.1)
txt(669, 1559, "Blood", size=20)
txt(517, 1814, "CSFE-BM", size=17.5, rotation=90)
txt(674, 2086, "Far red-Spleen", size=17.5)

# ======== J histograms
ax = ax_px(801.7, 1707, 1020, 1926)
ax.set_xlim(0.98, 5.02)
ax.set_ylim(0, 219)
J_BASE = [153, 122.3, 91.7, 61.3, 30.3, 0]
J_EDGE = ["#F06070", "#30BDEF", "#F5A050", "#5F8A2F", "#22E022", "#F9A0A0"]
J_FILL = ["#F58890", "#6CD8F8", "#F9B46C", "#8BA868", "#72F565", "#FBB4B4"]
J_CURVES = [(J1_X, J1_Y), (J2_X, J2_Y), (J3_X, J3_Y), (J4_X, J4_Y), (J5_X, J5_Y), (J6_X, J6_Y)]
J_GATE_Y = [9.3, 7.7, 9, 7.3, 8, 7.3]
J_TEXT_Y = [15.3, 14.3, 15.7, 13.7, 13.7, 14.3]
for base, edge, fill, (cx, cy), gy, ty, pct in zip(J_BASE, J_EDGE, J_FILL, J_CURVES, J_GATE_Y, J_TEXT_Y, J_PCT):
    ax.fill_between(cx, base, np.array(cy) + base, color=fill, alpha=0.7, lw=0, zorder=2)
    ax.plot(cx, np.array(cy) + base, color=edge, lw=1.1, zorder=3)
    ax.plot([0.98, 5.02], [base, base], color=edge, lw=1, alpha=0.55, zorder=3)
    ax.plot([2.846, 4.809], [base + gy] * 2, color="#555555", lw=0.9, zorder=5)
    for gx in (2.846, 4.809):
        ax.plot([gx, gx], [base + gy - 3.5, base + gy + 3.5], color="#555555", lw=0.9, zorder=5)
    ax.text(3.88, base + gy + ty - 9, pct, fontsize=8.3, color="#444444", ha="center", va="center", zorder=6)
flow_ticks(ax, "x", [1, 2, 3, 4, 5], [])
ax.set_xticklabels([])
ax.set_yticks([])
ax.tick_params(axis="x", which="major", length=4, width=1)
ax.tick_params(axis="x", which="minor", length=2, width=0.7)
for s in ax.spines.values():
    s.set_color("#999999")
    s.set_linewidth(1.1)
ax.spines["bottom"].set_color("#222222")
for name, y in zip(J_NAMES, [1757, 1789, 1818, 1850, 1883, 1912]):
    txt(808, y, name, size=11, ha="left", color="#222222")
for x, s in zip([812, 863, 918, 970, 1017], ["10$^{1}$", "10$^{2}$", "10$^{3}$", "10$^{4}$", "10$^{5}$"]):
    txt(x, 1941, s, size=6.5, color="#777777")
txt(902, 1954, "CD101", size=10.7)

link(780.7, 1689, 803.2, 1743, "#F01020")
link(647, 1683, 801.4, 1819, "#FFB300")
link(747, 1750, 803.2, 1882, "#00A050")
link(780, 1943, 802.5, 1791, "#00AEEF")
link(648, 1902, 801.4, 1849, "#9BCF7B")
link(748, 2002, 801.4, 1913, "#C0540A")

for x, y, s in [(2, 18, "A"), (2, 455, "B"), (2, 843, "C"), (2, 1274, "D"), (2, 1699, "E"), (476, 18, "F"), (476, 409, "G"),
                (476, 807, "H"), (478, 1175, "I"), (476, 1561, "J"), (857, 18, "K"), (860, 418, "L"), (858, 811, "M"), (858, 1175, "N")]:
    letter(x, y, s)

fig.savefig("out.png", dpi=100)
